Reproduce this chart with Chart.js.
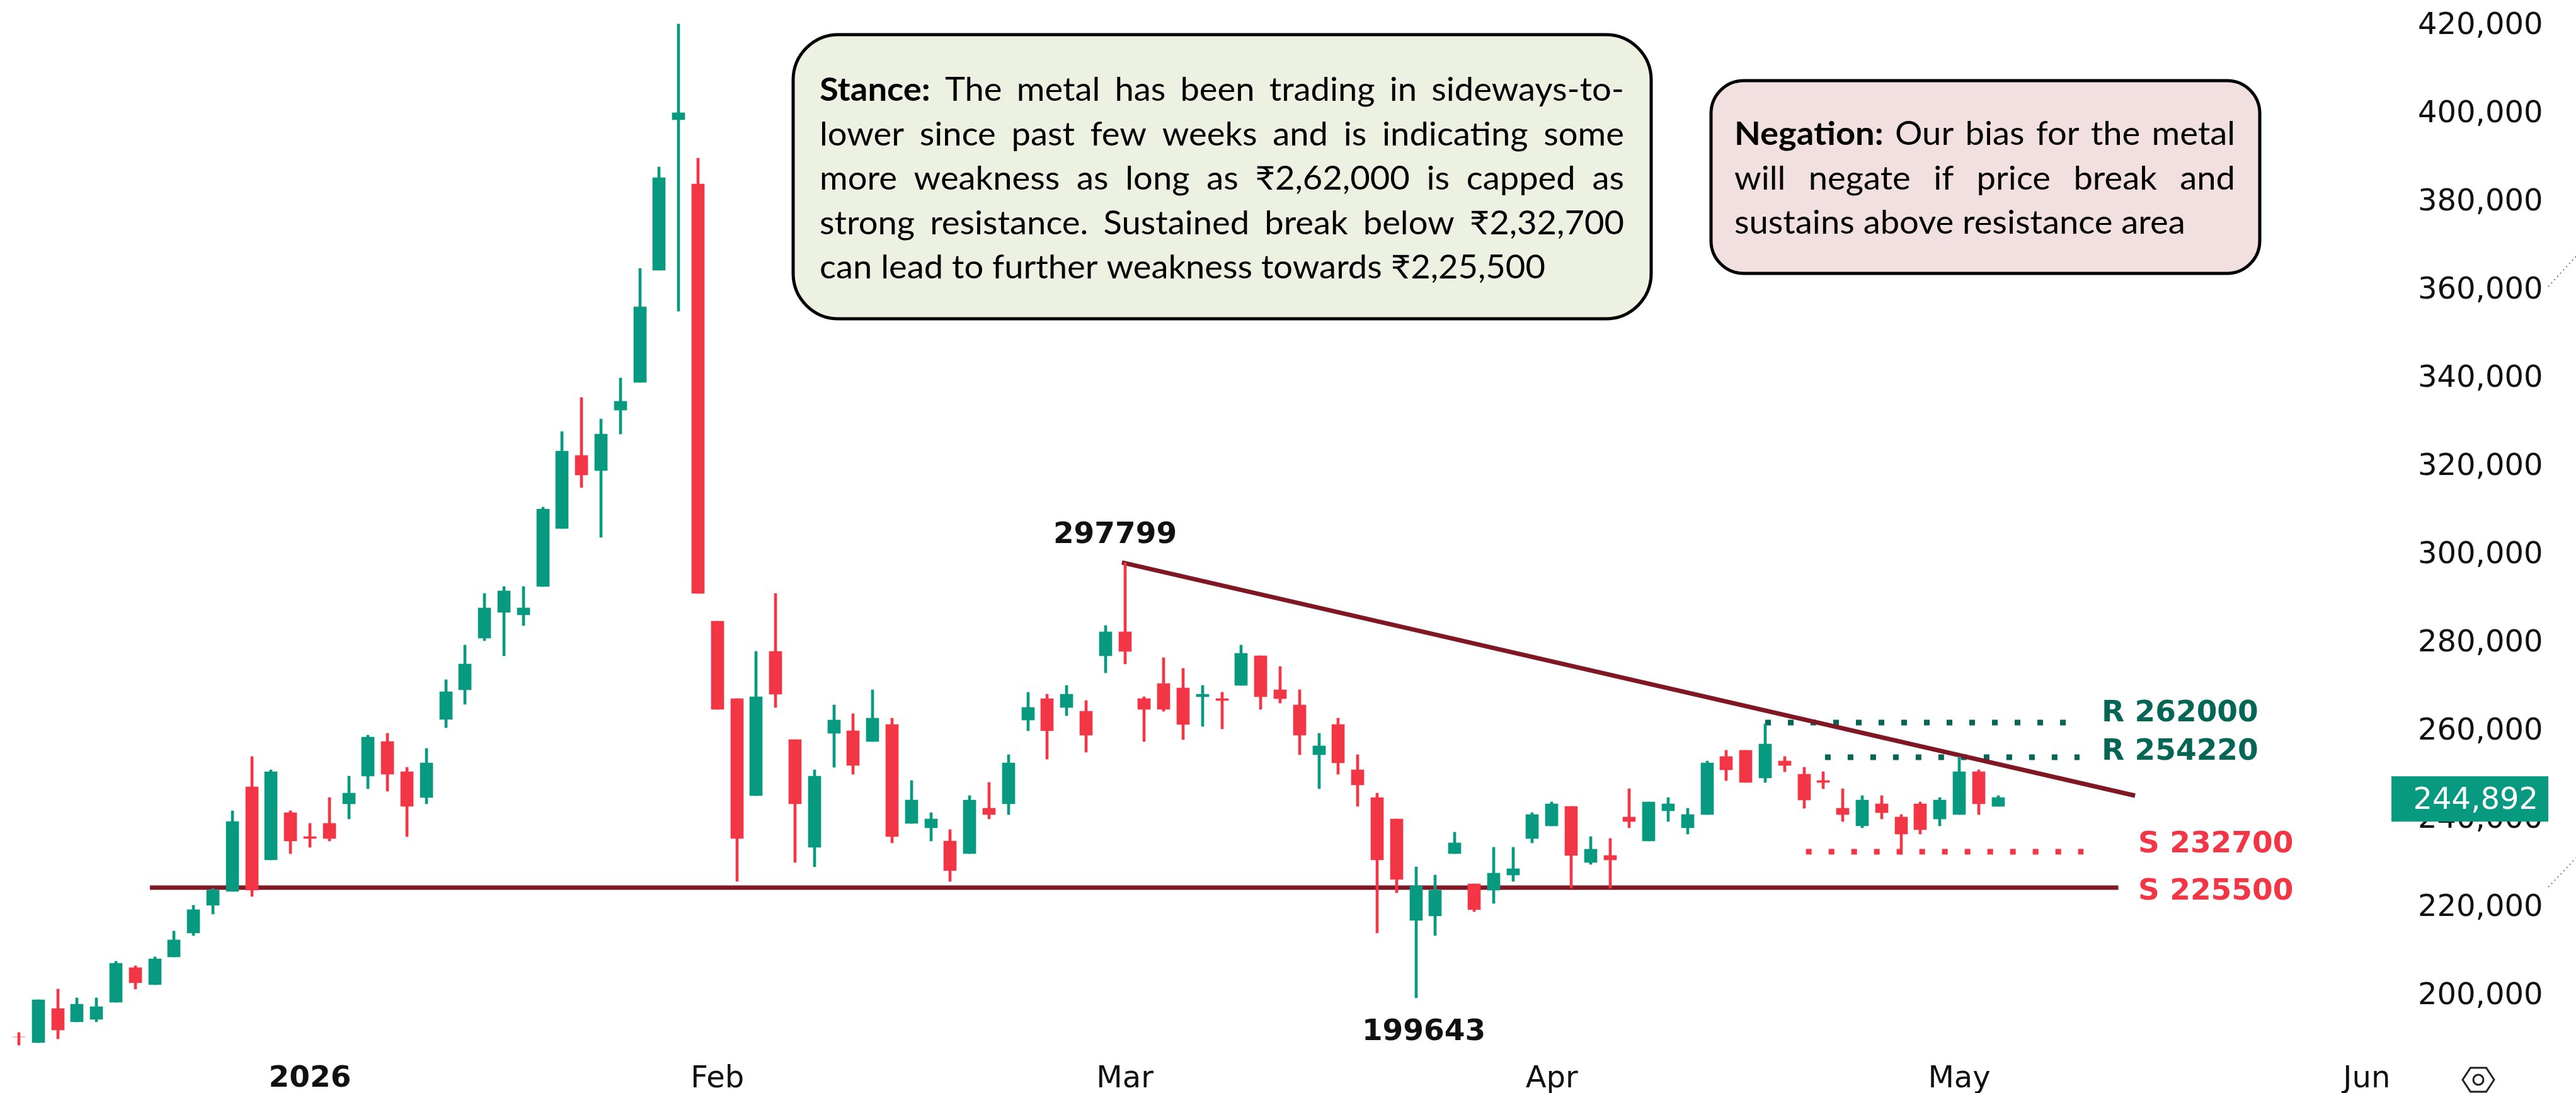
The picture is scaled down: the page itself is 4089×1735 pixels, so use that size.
<!DOCTYPE html>
<html>
<head>
<meta charset="utf-8">
<style>html,body{margin:0;padding:0;background:#fff}#wrap{width:4089px;height:1735px;position:relative}</style>
<script src="https://cdn.jsdelivr.net/npm/chart.js@4"></script>
</head>
<body>
<div id="wrap"><canvas id="c" width="4089" height="1735"></canvas></div>
<script>
// ---- data (rupees), one entry per trading day ----
const open  = [190000,188660,196430,193420,194020,197840,205740,201860,208150,213580,219870,223000,246730,230120,240830,235410,238420,242840,249140,256970,250140,244310,262000,268710,280430,286290,285740,292120,305240,321820,318450,332110,338410,363820,397990,383410,284270,266720,244690,277440,257430,233000,258850,259450,256990,260870,238400,237420,234410,231570,241850,242830,261850,266720,264700,263880,276450,281860,266690,270110,269160,267200,266690,269750,276450,268730,265300,254000,260850,250580,244310,239430,216470,217410,231550,224700,223300,226740,234980,237860,242290,229550,231130,239880,234420,241300,237420,240430,253550,255000,248740,252560,249560,248130,241850,237860,242830,239880,242830,239440,240430,250160,242340];
const high  = [191000,198440,200850,198840,198840,207150,206140,208150,213980,219870,223690,241300,253560,250540,241300,238420,244310,249140,258440,258850,251140,255430,271000,278860,290570,292140,292120,310160,327290,335030,330110,339410,364280,387240,419670,389240,284270,266720,277440,290560,257430,250600,265300,263280,268690,262290,248130,240860,236980,244690,247700,253980,268140,267700,269730,266280,283290,297550,267120,276020,273540,269750,268140,278860,276450,273970,268730,258890,262310,254000,245260,239430,228560,226740,236440,224700,233010,233010,240880,243270,242290,235400,235000,246280,243270,244310,241850,252560,255000,255000,260930,253550,251140,250160,246280,244690,244690,240430,243270,244310,253550,250600,244690];
const low   = [188200,188660,189530,193420,193420,197840,200850,201860,208150,212970,217860,223000,221880,230120,231590,232990,234400,239430,246260,245720,235410,242840,260140,265430,279860,276430,283280,292120,305240,314530,303240,326740,338410,363820,354530,290570,264260,225280,244690,264700,229550,228560,251140,249560,256990,233980,238400,234410,225280,231570,239440,240430,259450,253000,262840,254580,272570,274590,256990,263840,257430,260420,259840,269750,264280,265740,254000,246280,249560,242270,213550,222730,198900,212970,231550,218430,220260,225300,234030,237860,223700,229170,223700,237420,234420,238840,236000,240430,248100,247700,247700,250160,241850,246280,238840,237420,239440,231400,236000,237860,240430,240430,242340];
const close = [190000,198440,191540,197430,196830,206680,202260,207680,211970,218870,223290,238830,223290,250140,234400,235000,235000,245250,257980,249540,242310,252150,268290,274570,287290,291140,287290,309710,322820,317440,326740,334120,355530,384870,399540,290570,264260,235010,267160,267700,242830,249120,261850,251580,262290,235400,243700,239440,227690,243700,240430,252120,264700,259450,267700,258410,281860,277440,264280,264280,260850,267710,266250,276960,267120,266690,258450,255970,252110,247150,230170,225720,224260,223300,234030,218870,227100,228130,240450,242830,231130,232550,230150,238840,243270,242830,240430,252120,250600,247700,256450,251580,243710,247750,240430,243710,240870,236000,236980,243710,250160,242830,244250];
const yTickValues = [200000,220000,240000,260000,280000,300000,320000,340000,360000,380000,400000,420000];
const monthLabels = ['2026','Feb','Mar','Apr','May','Jun'];
const monthBars   = [15,36,57,79,100,121];
const lastPriceLabel = '244,892';
const trendX = [56.85,109.06];
const trendY = [297600,244710];
const supportX = [6.75,108.2];
const supportY = [223857,223857];
const res1X = [90,105.9];
const res1Y = [261300,261300];
const res2X = [93.08,106.2];
const res2Y = [253430,253430];
const sup2X = [92.1,106.4];
const sup2Y = [232000,232000];
const stanceLines = ['Stance: The metal has been trading in sideways-to-','lower since past few weeks and is indicating some','more weakness as long as ₹2,62,000 is capped as','strong resistance. Sustained break below ₹2,32,700','can lead to further weakness towards ₹2,25,500'];
const negationLines = ['Negation: Our bias for the metal','will negate if price break and','sustains above resistance area'];
const levelLabels = ['R 262000','R 254220','S 232700','S 225500'];
const swingLabels = ['297799','199643'];

// ---- styles ----
const UP='#089981', DOWN='#F23645', LINE='#7F1724', RES='#056656';
const W=4089,H=1735,PANE=3796,AXIS_H=70,BAR_STEP=30.8,BAR0=30,PX_PER_K=7,Y420=36;
const TICK_FONT='48px "DejaVu Sans"', BOLD_FONT='bold 47px "DejaVu Sans"';
const NOTE_FAMILY='Lato, "Noto Sans", "DejaVu Sans"', NOTE_SIZE=52, NOTE_XSCALE=1.045;
const idx=open.map((_,i)=>i);
const isUp=i=>close[i]>open[i];
const pts=(xs,ys)=>xs.map((x,i)=>({x,y:ys[i]}));
const lineDs=(data,color,width,dash)=>({type:'line',data,borderColor:color,borderWidth:width,borderDash:dash||[],pointRadius:0,tension:0,order:5,clip:false,fill:false});

function justify(ctx,line,left,right,baseline,isLast,boldCount){
  const words=line.split(' ');
  const fonts=words.map((_,i)=>`${i<boldCount?'bold ':''}${NOTE_SIZE}px ${NOTE_FAMILY}`);
  const widths=words.map((w,i)=>{ctx.font=fonts[i];return ctx.measureText(w).width*NOTE_XSCALE;});
  const sum=widths.reduce((a,b)=>a+b,0);
  ctx.font=`${NOTE_SIZE}px ${NOTE_FAMILY}`;
  const gap=isLast?ctx.measureText(' ').width*NOTE_XSCALE:(right-left-sum)/(words.length-1);
  let x=left;
  words.forEach((w,i)=>{
    ctx.font=fonts[i];
    ctx.save();ctx.translate(x,baseline);ctx.scale(NOTE_XSCALE,1);ctx.fillText(w,0,0);ctx.restore();
    x+=widths[i]+gap;
  });
}
function noteBox(ctx,box,lines){
  ctx.save();
  ctx.beginPath();ctx.roundRect(box.x0,box.y0,box.x1-box.x0,box.y1-box.y0,box.r);
  ctx.fillStyle=box.fill;ctx.fill();ctx.lineWidth=5;ctx.strokeStyle='#000';ctx.stroke();
  ctx.fillStyle='#000';ctx.textAlign='left';ctx.textBaseline='alphabetic';
  lines.forEach((l,i)=>justify(ctx,l,box.tx0,box.tx1,box.base+i*box.lead,i===lines.length-1,i===0?1:0));
  ctx.restore();
}
const crisp={id:'crisp',beforeDatasetsDraw(chart){
  chart.data.datasets.forEach((d,k)=>{ if(d.type==='line')return;
    chart.getDatasetMeta(k).data.forEach(el=>{el.x=Math.round(el.x);el.y=Math.round(el.y);el.base=Math.round(el.base);});});
}};
const overlay={id:'overlay',afterDraw(chart){
  const ctx=chart.ctx,xs=chart.scales.x,ys=chart.scales.y;
  noteBox(ctx,{x0:1259,y0:55,x1:2621,y1:506,r:72,fill:'#EDF1E1',tx0:1301,tx1:2578,base:160,lead:70.5},stanceLines);
  noteBox(ctx,{x0:2716,y0:128,x1:3587,y1:434,r:52,fill:'#F2DFE0',tx0:2753,tx1:3548,base:230,lead:70.5},negationLines);
  ctx.save();
  ctx.font=BOLD_FONT;ctx.textBaseline='middle';ctx.textAlign='left';
  [[levelLabels[0],3336,1133,RES],[levelLabels[1],3336,1194,RES],[levelLabels[2],3394,1341,DOWN],[levelLabels[3],3394,1416,DOWN]].forEach(([t,x,y,c])=>{ctx.fillStyle=c;ctx.fillText(t,x,y);});
  ctx.textAlign='center';ctx.fillStyle='#111';
  ctx.fillText(swingLabels[0],1770,850);ctx.fillText(swingLabels[1],2260,1639);
  // last price tag
  const ty=ys.getPixelForValue(close[close.length-1])+2;
  ctx.fillStyle=UP;ctx.fillRect(PANE,ty-36,249,72);
  ctx.fillStyle='#fff';ctx.font=TICK_FONT;ctx.textAlign='right';ctx.fillText(lastPriceLabel,4029,ty+3);
  // faint dotted corner marks at the right edge
  ctx.strokeStyle='#777';ctx.lineWidth=2;ctx.setLineDash([2,5]);
  [[455,407],[1408,1362]].forEach(([a,b])=>{ctx.beginPath();ctx.moveTo(4045,a);ctx.lineTo(4089,b);ctx.stroke();});
  ctx.setLineDash([]);
  // settings hexagon
  const cx=3934,cy=1714,r=25;ctx.strokeStyle='#222';ctx.lineWidth=3;ctx.beginPath();
  for(let i=0;i<6;i++){const a=Math.PI/3*i;const px=cx+r*Math.cos(a),py=cy+r*0.88*Math.sin(a);i?ctx.lineTo(px,py):ctx.moveTo(px,py);}
  ctx.closePath();ctx.stroke();ctx.beginPath();ctx.arc(cx,cy,8,0,Math.PI*2);ctx.stroke();
  ctx.restore();
}};

new Chart(document.getElementById('c'),{
  type:'bar',
  plugins:[crisp,overlay],
  data:{datasets:[
    lineDs(pts(supportX,supportY),LINE,7),
    lineDs(pts(trendX,trendY),LINE,7),
    lineDs(pts(res1X,res1Y),RES,9,[9,27]),
    lineDs(pts(res2X,res2Y),RES,9,[9,27]),
    lineDs(pts(sup2X,sup2Y),DOWN,9,[9,27]),
    {label:'Wick',data:idx.map(i=>({x:i,y:[low[i],high[i]]})),barThickness:4,grouped:false,borderWidth:0,order:2,
     backgroundColor:idx.map(i=>isUp(i)?UP:DOWN)},
    {label:'Body',data:idx.map(i=>({x:i,y:[open[i],close[i]]})),barThickness:20,grouped:false,borderWidth:0,order:1,
     backgroundColor:idx.map(i=>isUp(i)?UP:DOWN)}
  ]},
  options:{
    responsive:false,animation:false,
    layout:{padding:0},
    plugins:{legend:{display:false},tooltip:{enabled:false}},
    scales:{
      x:{type:'linear',offset:false,bounds:'data',
        min:(0-BAR0)/BAR_STEP,max:(PANE-BAR0)/BAR_STEP,
        grid:{display:false},border:{display:false},
        afterBuildTicks(s){s.ticks=monthBars.map(v=>({value:v}));},
        afterFit(s){s.height=AXIS_H;s.paddingLeft=0;s.paddingRight=0;},
        ticks:{autoSkip:false,maxRotation:0,padding:12,color:'#111',
          callback(v){return monthLabels[monthBars.indexOf(v)];},
          font(c){return c.tick&&c.tick.value===monthBars[0]?{family:'DejaVu Sans',size:47,weight:'bold'}:{family:'DejaVu Sans',size:48};}}
      },
      y:{type:'linear',position:'right',bounds:'data',
        min:420000-(H-AXIS_H-Y420)/PX_PER_K*1000,max:420000+Y420/PX_PER_K*1000,
        grid:{display:false},border:{display:false},
        afterBuildTicks(s){s.ticks=yTickValues.map(v=>({value:v}));},
        afterFit(s){s.width=W-PANE;s.paddingTop=0;s.paddingBottom=0;},
        ticks:{autoSkip:false,padding:34,labelOffset:6,color:'#111',font:{family:'DejaVu Sans',size:48},
          callback(v){return v.toLocaleString('en-US');}}
      }
    }
  }
});
</script>
</body>
</html>
